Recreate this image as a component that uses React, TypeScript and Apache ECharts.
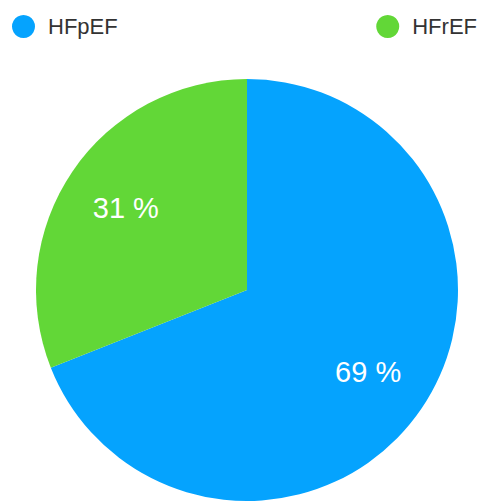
import React, { useEffect, useRef } from "react";
import * as echarts from "echarts";

const categories = ["HFpEF", "HFrEF"];
const values = [69, 31];
const colors = ["#05A3FE", "#62D737"];

export default function App() {
  const ref = useRef<HTMLDivElement>(null);
  useEffect(() => {
    if (!ref.current) return;
    const chart = echarts.init(ref.current, null, { renderer: "svg" });
    const data = categories.map((name, i) => ({
      name,
      value: values[i],
      itemStyle: { color: colors[i] },
    }));
    const legendBase = {
      orient: "horizontal" as const,
      top: 10,
      icon: "circle",
      itemWidth: 23,
      itemHeight: 23,
      selectedMode: false,
      textStyle: {
        fontSize: 22,
        color: "#333333",
        fontFamily: "Liberation Sans, Arial, sans-serif",
        padding: [0, 0, 0, 8],
      },
    };
    chart.setOption({
      animation: false,
      backgroundColor: "#ffffff",
      legend: [
        { ...legendBase, left: 7, data: [categories[0]] },
        { ...legendBase, right: 0, data: [categories[1]] },
      ],
      series: [
        {
          type: "pie",
          center: [247, 290],
          radius: [0, 211],
          startAngle: 90,
          clockwise: true,
          silent: true,
          label: { show: false },
          labelLine: { show: false },
          itemStyle: { borderWidth: 0 },
          data,
        },
        {
          type: "pie",
          center: [247, 290],
          radius: [76, 211],
          startAngle: 90,
          clockwise: true,
          silent: true,
          itemStyle: { color: "transparent", borderWidth: 0 },
          label: {
            show: true,
            position: "inside",
            formatter: (p: any) => `${p.value} %`,
            color: "#ffffff",
            fontSize: 29,
            fontFamily: "Liberation Sans, Arial, sans-serif",
          },
          labelLine: { show: false },
          data: categories.map((name, i) => ({ name, value: values[i] })),
        },
      ],
    });
    return () => chart.dispose();
  }, []);
  return (
    <div
      ref={ref}
      style={{ position: "absolute", left: 0, top: 0, width: 482, height: 503 }}
    />
  );
}
